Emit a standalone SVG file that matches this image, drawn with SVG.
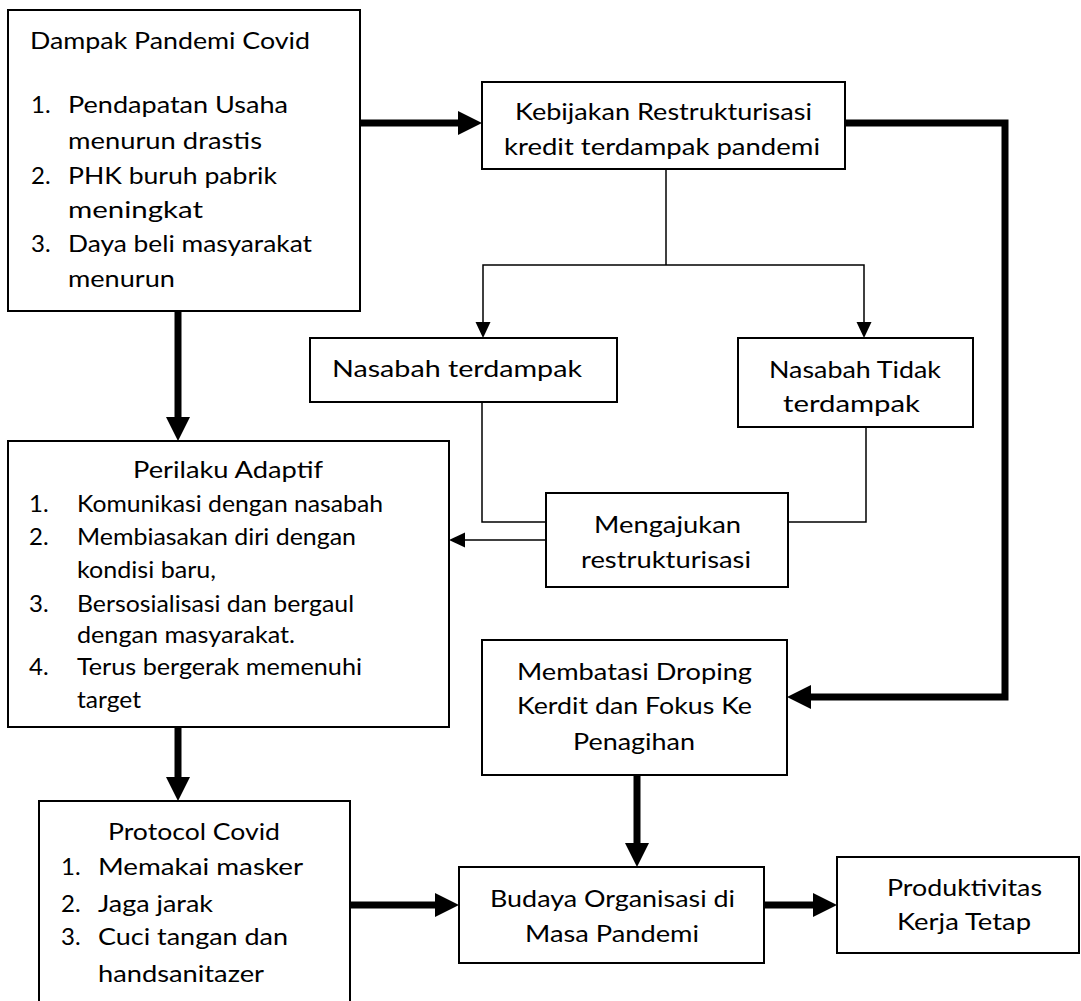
<svg xmlns="http://www.w3.org/2000/svg" width="1081" height="1001" viewBox="0 0 1081 1001">
<style>
.box{fill:#fff;stroke:#000;stroke-width:2}
.t{font-family:Lato,"Liberation Sans",sans-serif;font-size:24px;fill:#000}
.thin{stroke:#000;stroke-width:1.5;fill:none}
.thick{stroke:#000;stroke-width:7;fill:none;stroke-linejoin:miter}
</style>
<defs>
<marker id="hk" markerUnits="userSpaceOnUse" markerWidth="24" markerHeight="24" refX="0" refY="12" orient="auto"><path d="M0,0 L24,12 L0,24 z" fill="#000"/></marker>
<marker id="hn" markerUnits="userSpaceOnUse" markerWidth="16" markerHeight="16" refX="0" refY="8" orient="auto"><path d="M0,0.5 L16,8 L0,15.5 z" fill="#000"/></marker>
</defs>
<rect x="0" y="0" width="1081" height="1001" fill="#fff"/>
<g id="connectors">
<path class="thick" d="M360,123 H458" marker-end="url(#hk)"/>
<path class="thick" d="M845,123 H1005 V697 H811" marker-end="url(#hk)"/>
<path class="thick" d="M178,311 V417" marker-end="url(#hk)"/>
<path class="thick" d="M178,727 V777" marker-end="url(#hk)"/>
<path class="thick" d="M350,905 H435" marker-end="url(#hk)"/>
<path class="thick" d="M637,775 V843" marker-end="url(#hk)"/>
<path class="thick" d="M764,905 H813" marker-end="url(#hk)"/>
<path class="thin" d="M666,169 V265"/>
<path class="thin" d="M666,265 H483 V322" marker-end="url(#hn)"/>
<path class="thin" d="M666,265 H864 V322" marker-end="url(#hn)"/>
<path class="thin" d="M482,402 V522 H546"/>
<path class="thin" d="M788,522 H866 V428"/>
<path class="thin" d="M546,540 H465" marker-end="url(#hn)"/>
</g>
<g id="dampak">
<rect class="box" x="8" y="10" width="352" height="301"/>
<text class="t" x="30" y="49" textLength="280" lengthAdjust="spacingAndGlyphs">Dampak Pandemi Covid</text>
<text class="t" x="31" y="113">1.</text>
<text class="t" x="68" y="113" textLength="220" lengthAdjust="spacingAndGlyphs">Pendapatan Usaha</text>
<text class="t" x="68" y="149" textLength="194" lengthAdjust="spacingAndGlyphs">menurun drastis</text>
<text class="t" x="31" y="184">2.</text>
<text class="t" x="68" y="184" textLength="209" lengthAdjust="spacingAndGlyphs">PHK buruh pabrik</text>
<text class="t" x="68" y="218" textLength="135" lengthAdjust="spacingAndGlyphs">meningkat</text>
<text class="t" x="31" y="252">3.</text>
<text class="t" x="68" y="252" textLength="244" lengthAdjust="spacingAndGlyphs">Daya beli masyarakat</text>
<text class="t" x="68" y="287" textLength="107" lengthAdjust="spacingAndGlyphs">menurun</text>
</g>
<g id="kebijakan">
<rect class="box" x="482" y="82" width="363" height="87"/>
<text class="t" x="515" y="120" textLength="297" lengthAdjust="spacingAndGlyphs">Kebijakan Restrukturisasi</text>
<text class="t" x="504" y="155" textLength="316" lengthAdjust="spacingAndGlyphs">kredit terdampak pandemi</text>
</g>
<g id="nasabah-terdampak">
<rect class="box" x="310" y="338" width="307" height="64"/>
<text class="t" x="332" y="377" textLength="250" lengthAdjust="spacingAndGlyphs">Nasabah terdampak</text>
</g>
<g id="nasabah-tidak">
<rect class="box" x="738" y="338" width="235" height="89"/>
<text class="t" x="769" y="378" textLength="172" lengthAdjust="spacingAndGlyphs">Nasabah Tidak</text>
<text class="t" x="783" y="412" textLength="137" lengthAdjust="spacingAndGlyphs">terdampak</text>
</g>
<g id="perilaku">
<rect class="box" x="8" y="441" width="441" height="286"/>
<text class="t" x="133" y="478" textLength="190" lengthAdjust="spacingAndGlyphs">Perilaku Adaptif</text>
<text class="t" x="29" y="512">1.</text>
<text class="t" x="77" y="512" textLength="306" lengthAdjust="spacingAndGlyphs">Komunikasi dengan nasabah</text>
<text class="t" x="29" y="545">2.</text>
<text class="t" x="77" y="545" textLength="279" lengthAdjust="spacingAndGlyphs">Membiasakan diri dengan</text>
<text class="t" x="77" y="578" textLength="139" lengthAdjust="spacingAndGlyphs">kondisi baru,</text>
<text class="t" x="29" y="612">3.</text>
<text class="t" x="77" y="612" textLength="277" lengthAdjust="spacingAndGlyphs">Bersosialisasi dan bergaul</text>
<text class="t" x="77" y="643" textLength="218" lengthAdjust="spacingAndGlyphs">dengan masyarakat.</text>
<text class="t" x="29" y="675">4.</text>
<text class="t" x="77" y="675" textLength="285" lengthAdjust="spacingAndGlyphs">Terus bergerak memenuhi</text>
<text class="t" x="77" y="708" textLength="64" lengthAdjust="spacingAndGlyphs">target</text>
</g>
<g id="mengajukan">
<rect class="box" x="546" y="493" width="242" height="94"/>
<text class="t" x="594" y="533" textLength="147" lengthAdjust="spacingAndGlyphs">Mengajukan</text>
<text class="t" x="581" y="568" textLength="170" lengthAdjust="spacingAndGlyphs">restrukturisasi</text>
</g>
<g id="membatasi">
<rect class="box" x="482" y="640" width="305" height="135"/>
<text class="t" x="517" y="680" textLength="235" lengthAdjust="spacingAndGlyphs">Membatasi Droping</text>
<text class="t" x="517" y="714" textLength="235" lengthAdjust="spacingAndGlyphs">Kerdit dan Fokus Ke</text>
<text class="t" x="573" y="750" textLength="122" lengthAdjust="spacingAndGlyphs">Penagihan</text>
</g>
<g id="protocol">
<rect class="box" x="39" y="801" width="311" height="220"/>
<text class="t" x="108" y="840" textLength="172" lengthAdjust="spacingAndGlyphs">Protocol Covid</text>
<text class="t" x="61" y="875">1.</text>
<text class="t" x="98" y="875" textLength="205" lengthAdjust="spacingAndGlyphs">Memakai masker</text>
<text class="t" x="61" y="912">2.</text>
<text class="t" x="98" y="912" textLength="115" lengthAdjust="spacingAndGlyphs">Jaga jarak</text>
<text class="t" x="61" y="945">3.</text>
<text class="t" x="98" y="945" textLength="190" lengthAdjust="spacingAndGlyphs">Cuci tangan dan</text>
<text class="t" x="98" y="982" textLength="166" lengthAdjust="spacingAndGlyphs">handsanitazer</text>
</g>
<g id="budaya">
<rect class="box" x="459" y="867" width="305" height="96"/>
<text class="t" x="490" y="907" textLength="245" lengthAdjust="spacingAndGlyphs">Budaya Organisasi di</text>
<text class="t" x="525" y="942" textLength="174" lengthAdjust="spacingAndGlyphs">Masa Pandemi</text>
</g>
<g id="produktivitas">
<rect class="box" x="837" y="857" width="242" height="96"/>
<text class="t" x="887" y="896" textLength="155" lengthAdjust="spacingAndGlyphs">Produktivitas</text>
<text class="t" x="897" y="930" textLength="134" lengthAdjust="spacingAndGlyphs">Kerja Tetap</text>
</g>
</svg>
